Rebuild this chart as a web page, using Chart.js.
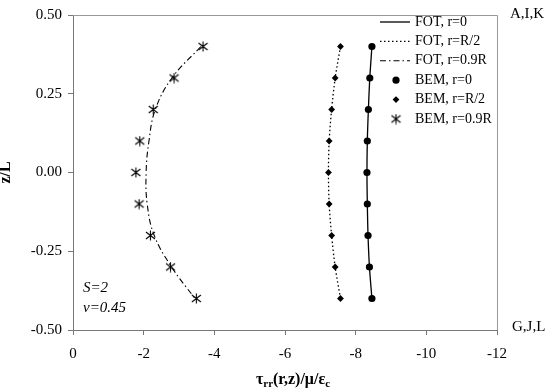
<!DOCTYPE html>
<html><head><meta charset="utf-8">
<script src="https://cdn.jsdelivr.net/npm/chart.js@4/dist/chart.umd.min.js"></script>
<style>html,body{margin:0;padding:0;background:#fff}#wrap{width:555px;height:390px}</style>
</head><body><div id="wrap"><canvas id="c" width="555" height="390"></canvas></div>
<script>
// ---- data ----
const zValues   = [0.4, 0.3, 0.2, 0.1, 0, -0.1, -0.2, -0.3, -0.4];
const fotR0     = [-8.46, -8.40, -8.36, -8.33, -8.32, -8.33, -8.35, -8.39, -8.46];
const fotRHalf  = [-7.57, -7.42, -7.32, -7.25, -7.23, -7.25, -7.32, -7.42, -7.57];
const fot09R    = [-3.62, -2.80, -2.33, -2.15, -2.07, -2.10, -2.30, -2.79, -3.45];
const bemR0     = [-8.46, -8.40, -8.36, -8.33, -8.32, -8.33, -8.35, -8.39, -8.46];
const bemRHalf  = [-7.57, -7.42, -7.32, -7.25, -7.23, -7.25, -7.32, -7.42, -7.57];
const bem09R    = [-3.68, -2.86, -2.27, -1.89, -1.78, -1.87, -2.19, -2.76, -3.49];
const seriesLabels = ['FOT, r=0', 'FOT, r=R/2', 'FOT, r=0.9R', 'BEM, r=0', 'BEM, r=R/2', 'BEM, r=0.9R'];
const xTicks = [0, -2, -4, -6, -8, -10, -12];
const yTicks = [0.5, 0.25, 0, -0.25, -0.5];
const topLabel = 'A,I,K';
const bottomLabel = 'G,J,L';
const noteLines = ['S=2', 'ν=0.45'];

const pts = arr => zValues.map((z, i) => ({x: arr[i], y: z}));

function makeAsterisk() {
  const c = document.createElement('canvas');
  c.width = 11; c.height = 11;
  const g = c.getContext('2d');
  g.strokeStyle = '#000'; g.lineWidth = 1.1;
  g.beginPath();
  g.moveTo(5.5, 0.5); g.lineTo(5.5, 10.5);
  g.moveTo(1, 2); g.lineTo(10, 9);
  g.moveTo(10, 2); g.lineTo(1, 9);
  g.stroke();
  return c;
}
const asterisk = makeAsterisk();

const SERIF = '"Liberation Serif", "Times New Roman", serif';

const datasets = [
  {label: seriesLabels[0], data: pts(fotR0), showLine: true, borderColor: '#000', borderWidth: 1.3, pointRadius: 0, tension: 0.3, fill: false},
  {label: seriesLabels[1], data: pts(fotRHalf), showLine: true, borderColor: '#000', borderWidth: 1.3, borderDash: [1.5, 2.5], pointRadius: 0, tension: 0.3, fill: false},
  {label: seriesLabels[2], data: pts(fot09R), showLine: true, borderColor: '#000', borderWidth: 1.1, borderDash: [6, 3, 1.5, 3], pointRadius: 0, tension: 0.4, fill: false},
  {label: seriesLabels[3], data: pts(bemR0), showLine: false, pointStyle: 'circle', pointRadius: 3.6, backgroundColor: '#000', borderColor: '#000', borderWidth: 0},
  {label: seriesLabels[4], data: pts(bemRHalf), showLine: false, pointStyle: 'rectRot', pointRadius: 3.4, backgroundColor: '#000', borderColor: '#000', borderWidth: 0},
  {label: seriesLabels[5], data: pts(bem09R), showLine: false, pointStyle: asterisk, pointRadius: 5},
];

const extras = {
  id: 'extras',
  afterDraw(chart) {
    const ctx = chart.ctx, a = chart.chartArea;
    ctx.save();
    // frame top & right
    ctx.strokeStyle = '#999'; ctx.lineWidth = 1;
    ctx.beginPath();
    ctx.moveTo(a.left, a.top + 0.5); ctx.lineTo(a.right + 0.5, a.top + 0.5); ctx.lineTo(a.right + 0.5, a.bottom);
    ctx.stroke();

    // x title with subscripts
    const parts = [['τ', 0], ['rr', 1], ['(r,z)/μ/ε', 0], ['c', 1]];
    const fMain = 'bold 16px ' + SERIF, fSub = 'bold 11px ' + SERIF;
    let w = 0;
    parts.forEach(p => { ctx.font = p[1] ? fSub : fMain; w += ctx.measureText(p[0]).width; });
    let x = 293 - w / 2; const yb = 384;
    ctx.fillStyle = '#000'; ctx.textBaseline = 'alphabetic'; ctx.textAlign = 'left';
    parts.forEach(p => {
      ctx.font = p[1] ? fSub : fMain;
      ctx.fillText(p[0], x, yb + (p[1] ? 3 : 0));
      x += ctx.measureText(p[0]).width;
    });

    // right labels
    ctx.font = '15px ' + SERIF; ctx.textBaseline = 'middle';
    ctx.fillText(topLabel, 510, 14);
    ctx.fillText(bottomLabel, 512, 327);

    // notes
    ctx.font = 'italic 15px ' + SERIF;
    ctx.fillText(noteLines[0], 83, 288);
    ctx.fillText(noteLines[1], 83, 308);

    // legend
    ctx.font = '14px ' + SERIF;
    chart.data.datasets.forEach((ds, i) => {
      const y = 22 + i * 19.4;
      if (ds.showLine) {
        ctx.save();
        ctx.strokeStyle = '#000'; ctx.lineWidth = ds.borderWidth;
        ctx.setLineDash(ds.borderDash || []);
        ctx.beginPath(); ctx.moveTo(380, y); ctx.lineTo(410, y); ctx.stroke();
        ctx.restore();
      } else {
        const cx = 396;
        ctx.fillStyle = '#000';
        if (ds.pointStyle === 'circle') {
          ctx.beginPath(); ctx.arc(cx, y, ds.pointRadius, 0, Math.PI * 2); ctx.fill();
        } else if (ds.pointStyle === 'rectRot') {
          const r = ds.pointRadius;
          ctx.beginPath(); ctx.moveTo(cx, y - r); ctx.lineTo(cx + r, y); ctx.lineTo(cx, y + r); ctx.lineTo(cx - r, y); ctx.closePath(); ctx.fill();
        } else {
          ctx.drawImage(ds.pointStyle, cx - 5.5, y - 5.5);
        }
      }
      ctx.fillStyle = '#000';
      ctx.fillText(ds.label, 415, y);
    });
    ctx.restore();
  }
};

new Chart(document.getElementById('c'), {
  type: 'scatter',
  data: {datasets},
  options: {
    responsive: false,
    animation: false,
    layout: {padding: {top: 10, right: 58, bottom: 0, left: 0}},
    plugins: {legend: {display: false}, tooltip: {enabled: false}},
    scales: {
      x: {
        type: 'linear', min: -12, max: 0, reverse: true,
        afterBuildTicks: s => { s.ticks = xTicks.map(v => ({value: v})); },
        afterFit: s => { s.height = 60; },
        ticks: {color: '#000', font: {family: SERIF, size: 15}, padding: 10, callback: v => String(v)},
        grid: {display: true, drawOnChartArea: false, drawTicks: true, tickLength: 5, color: '#777', tickColor: '#777'},
        border: {display: true, color: '#777'},
        title: {display: false}
      },
      y: {
        type: 'linear', min: -0.5, max: 0.5,
        afterBuildTicks: s => { s.ticks = yTicks.map(v => ({value: v})); },
        afterFit: s => { s.width = 73; },
        ticks: {color: '#000', font: {family: SERIF, size: 15}, padding: 6, callback: v => Number(v).toFixed(2)},
        grid: {display: true, drawOnChartArea: false, drawTicks: true, tickLength: 5, color: '#777', tickColor: '#777'},
        border: {display: true, color: '#777'},
        title: {display: true, text: 'z/L', color: '#000', font: {family: SERIF, size: 16, weight: 'bold', lineHeight: 0.7}, padding: {top: 0, bottom: 0}}
      }
    }
  },
  plugins: [extras]
});
</script>
</body></html>
